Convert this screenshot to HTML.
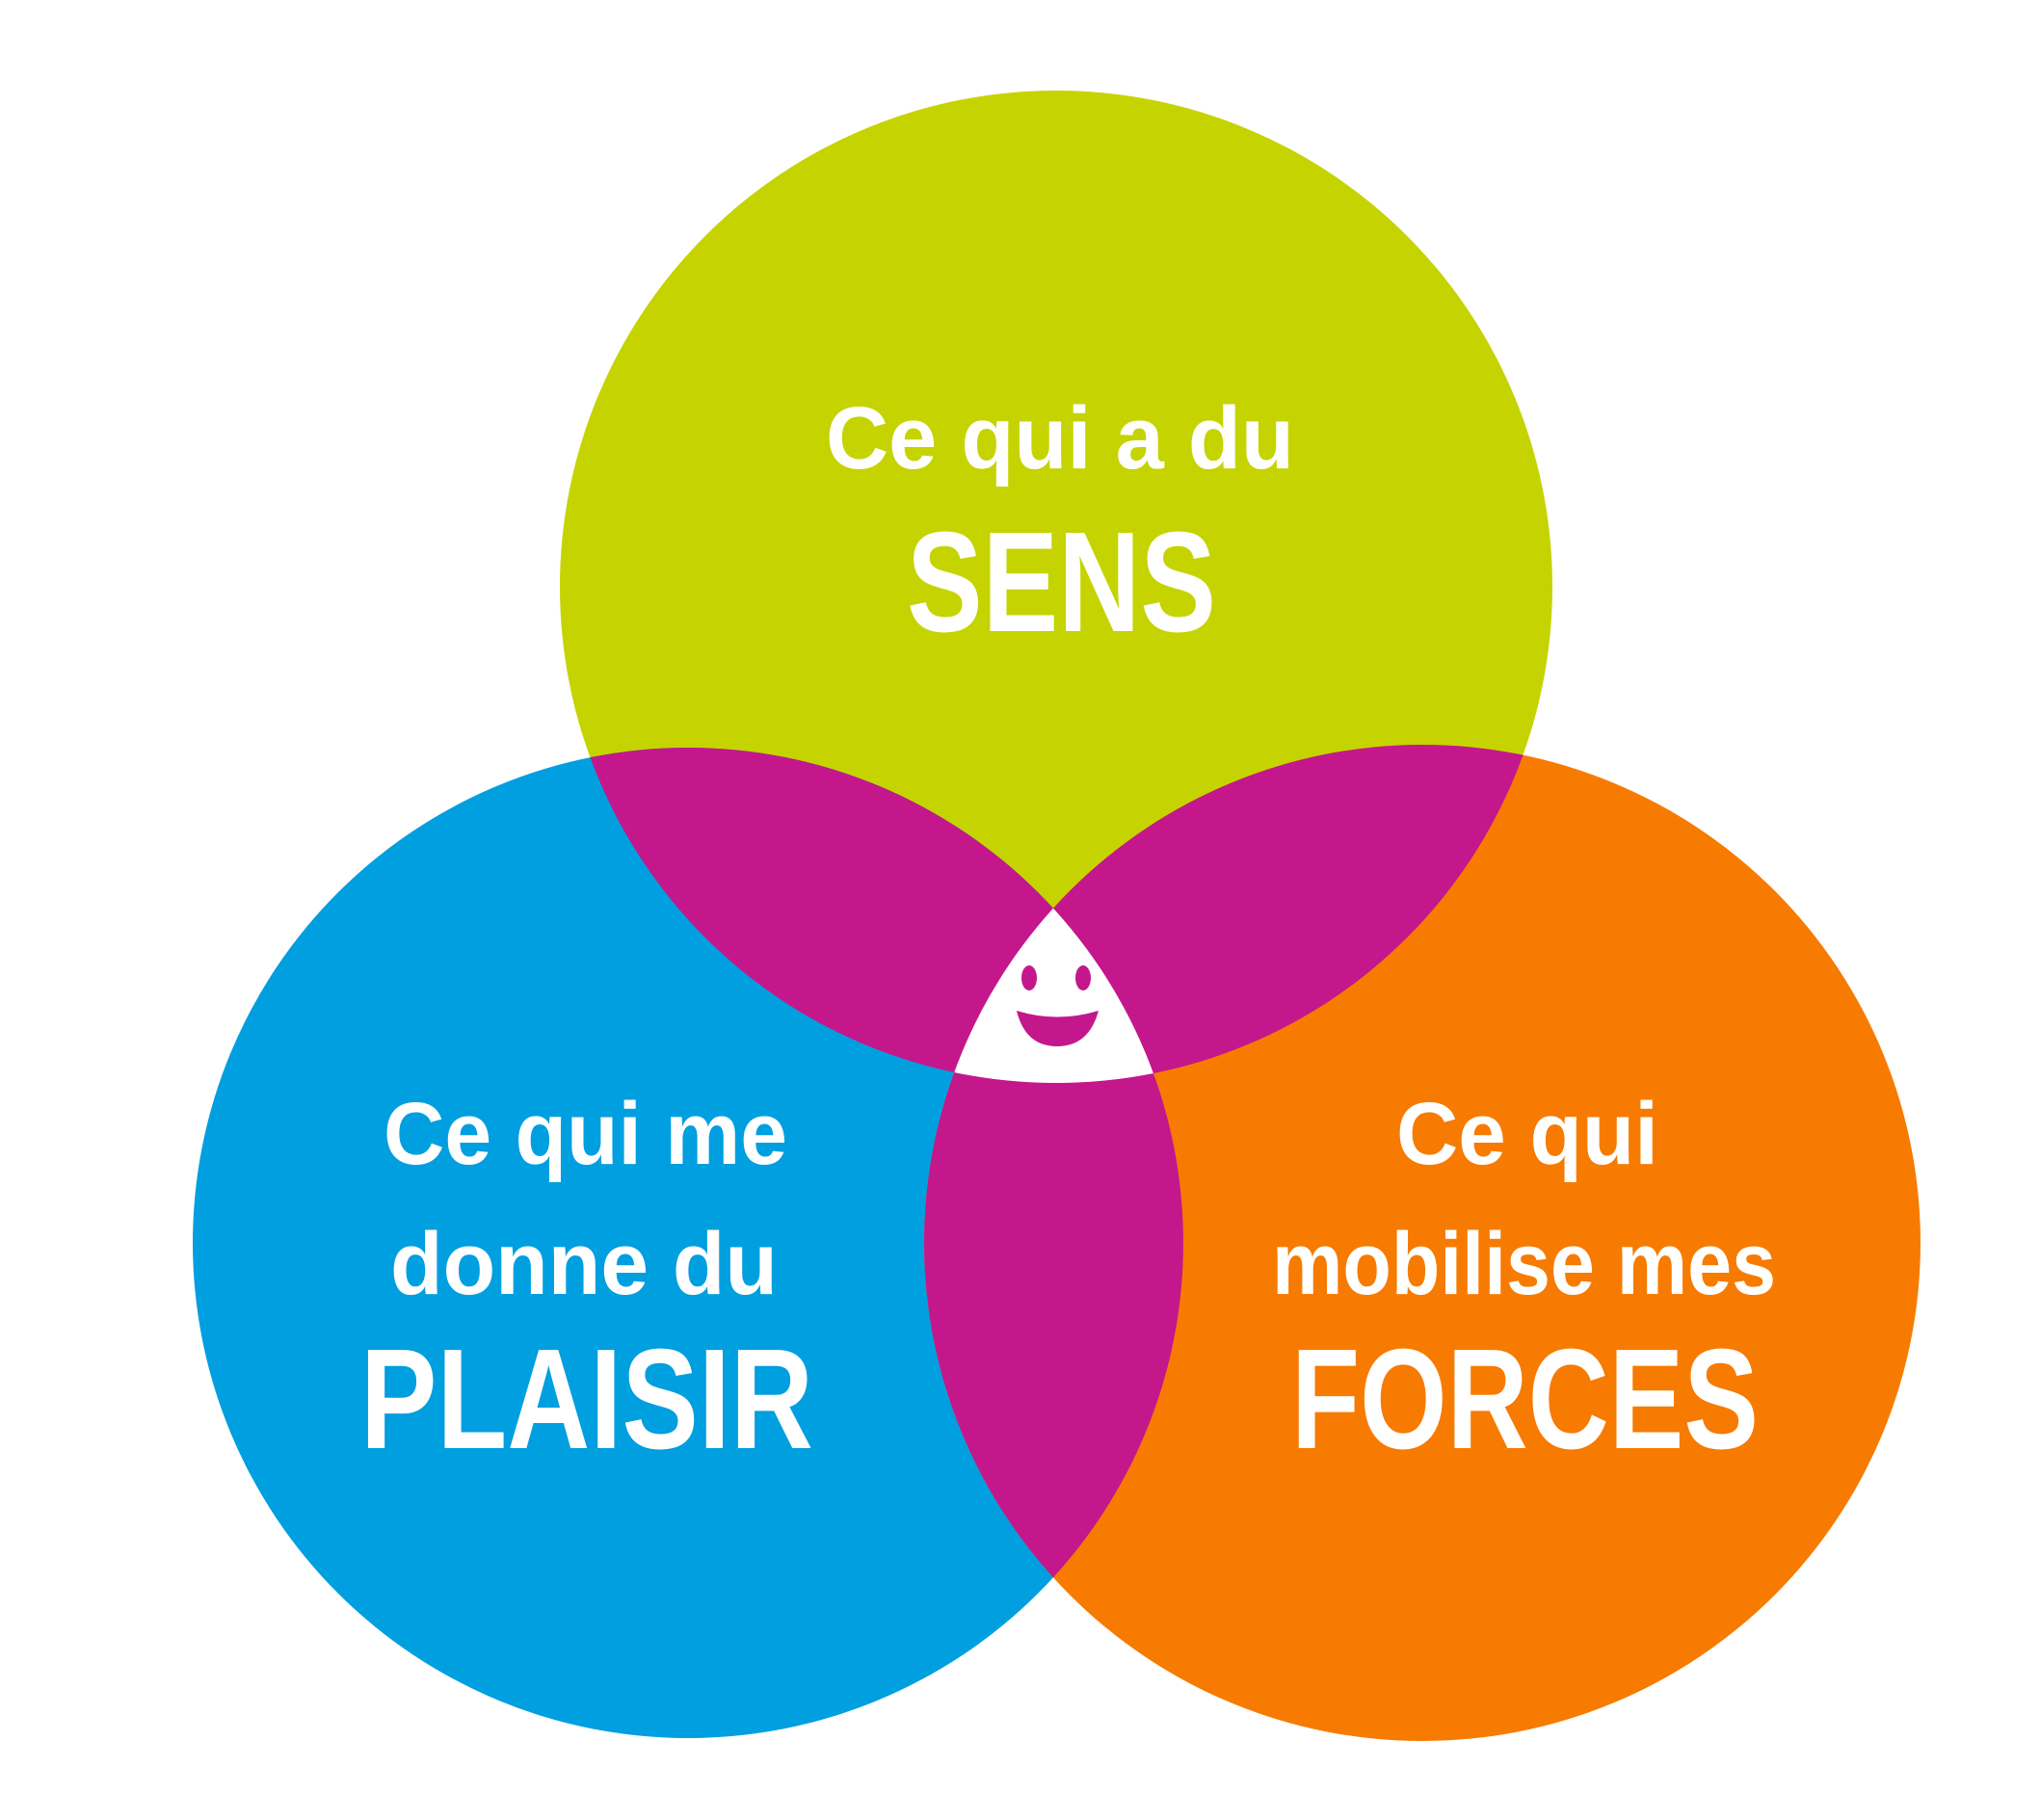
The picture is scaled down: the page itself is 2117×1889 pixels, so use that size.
<!DOCTYPE html>
<html><head><meta charset="utf-8"><style>
html,body{margin:0;padding:0;background:#fff;}
svg{display:block;}
text{font-family:"Liberation Sans",sans-serif;font-weight:bold;fill:#fff;}
</style></head><body>
<svg width="2117" height="1889" viewBox="0 0 2117 1889" xmlns="http://www.w3.org/2000/svg">
<defs>
<clipPath id="cT"><circle cx="1096" cy="609" r="515"/></clipPath>
<clipPath id="cL"><circle cx="714" cy="1290" r="514"/></clipPath>
<clipPath id="cR"><circle cx="1476" cy="1290" r="517"/></clipPath>
</defs>
<circle cx="1096" cy="609" r="515" fill="#c5d400"/>
<circle cx="714" cy="1290" r="514" fill="#009fe0"/>
<circle cx="1476" cy="1290" r="517" fill="#f77b00"/>
<g clip-path="url(#cT)"><circle cx="714" cy="1290" r="514" fill="#c4178c"/><circle cx="1476" cy="1290" r="517" fill="#c4178c"/></g>
<g clip-path="url(#cL)"><circle cx="1476" cy="1290" r="517" fill="#c4178c"/></g>
<g clip-path="url(#cT)"><g clip-path="url(#cL)"><circle cx="1476" cy="1290" r="517" fill="#fff"/></g></g>
<ellipse cx="1068" cy="1015" rx="8" ry="13" fill="#c4178c"/>
<ellipse cx="1124" cy="1015" rx="8" ry="13" fill="#c4178c"/>
<path d="M1055 1049 Q1097 1062 1140 1049 Q1130 1086 1097 1086 Q1064 1086 1055 1049 Z" fill="#c4178c"/>
<text x="857" y="486" font-size="92" textLength="486" lengthAdjust="spacingAndGlyphs">Ce qui a du</text>
<text x="941" y="655" font-size="148" textLength="321" lengthAdjust="spacingAndGlyphs">SENS</text>
<text x="398" y="1208" font-size="92" textLength="419" lengthAdjust="spacingAndGlyphs">Ce qui me</text>
<text x="405" y="1343" font-size="92" textLength="402" lengthAdjust="spacingAndGlyphs">donne du</text>
<text x="374" y="1503" font-size="148" textLength="470" lengthAdjust="spacingAndGlyphs">PLAISIR</text>
<text x="1449" y="1208" font-size="92" textLength="272" lengthAdjust="spacingAndGlyphs">Ce qui</text>
<text x="1320" y="1343" font-size="92" textLength="523" lengthAdjust="spacingAndGlyphs">mobilise mes</text>
<text x="1340" y="1503" font-size="148" textLength="485" lengthAdjust="spacingAndGlyphs">FORCES</text>
</svg>
</body></html>
